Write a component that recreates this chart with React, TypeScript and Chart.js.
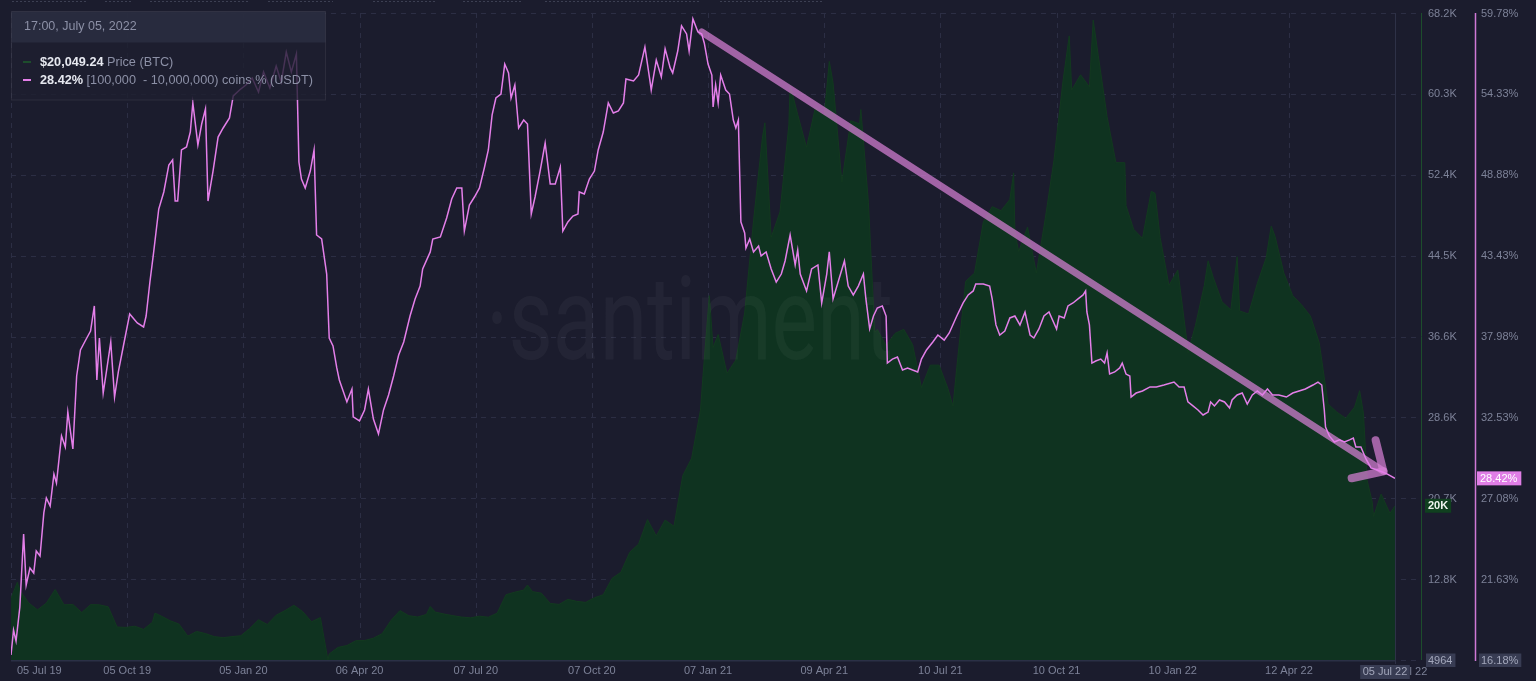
import React, { useEffect, useRef } from "react";
import { Chart, registerables } from "chart.js";

Chart.register(...registerables);

// ---------- data ----------
// x positions are days since 05 Jul 2019
const xTickDays = [0, 92, 184, 276, 368, 460, 552, 644, 736, 828, 920, 1012];
const xTickLabels = ["05 Jul 19", "05 Oct 19", "05 Jan 20", "06 Apr 20", "07 Jul 20", "07 Oct 20", "07 Jan 21", "09 Apr 21", "10 Jul 21", "10 Oct 21", "10 Jan 22", "12 Apr 22"];
const lastDay = 1096;
const lastDayLabel = "05 Jul 22";

const priceTicks = [4964, 12873, 20782, 28691, 36600, 44509, 52418, 60327, 68236];
const priceTickLabels = ["4964", "12.8K", "20.7K", "28.6K", "36.6K", "44.5K", "52.4K", "60.3K", "68.2K"];
const pctTicks = [16.18, 21.63, 27.08, 32.53, 37.98, 43.43, 48.88, 54.33, 59.78];
const pctTickLabels = ["16.18%", "21.63%", "27.08%", "32.53%", "37.98%", "43.43%", "48.88%", "54.33%", "59.78%"];

const priceDays = [0, 5, 7, 14, 21, 28, 35, 42, 49, 56, 63, 70, 77, 84, 91, 98, 105, 112, 114, 119, 126, 133, 140, 147, 154, 161, 168, 175, 182, 189, 196, 203, 210, 217, 224, 231, 238, 245, 251, 252, 259, 266, 273, 280, 287, 294, 301, 308, 315, 322, 329, 332, 336, 343, 350, 357, 364, 371, 378, 385, 392, 399, 406, 409, 413, 420, 427, 434, 441, 448, 455, 462, 469, 476, 483, 490, 497, 504, 511, 518, 525, 532, 539, 546, 548, 553, 556, 560, 567, 574, 581, 588, 595, 597, 602, 609, 616, 617, 623, 630, 637, 644, 648, 651, 658, 665, 672, 673, 679, 684, 686, 693, 700, 707, 714, 721, 728, 735, 742, 746, 749, 756, 763, 770, 777, 784, 791, 794, 795, 798, 805, 812, 819, 826, 833, 838, 840, 847, 854, 857, 861, 868, 875, 882, 883, 889, 896, 903, 906, 910, 917, 924, 931, 932, 938, 945, 948, 952, 959, 966, 971, 973, 980, 987, 994, 998, 1001, 1008, 1015, 1022, 1029, 1036, 1043, 1050, 1057, 1064, 1068, 1071, 1074, 1078, 1079, 1085, 1092, 1096];
const priceValues = [11000, 12570, 11800, 10550, 9870, 10530, 11860, 10360, 10400, 9600, 10380, 10360, 10170, 8190, 8150, 8270, 7960, 8660, 9550, 9260, 8810, 8480, 7300, 7760, 7550, 7250, 7150, 7250, 7340, 8040, 8900, 8440, 9350, 9800, 10320, 9700, 8700, 9120, 4970, 5560, 6200, 6380, 6850, 6870, 7100, 7550, 8850, 9800, 9300, 9170, 9420, 10200, 9650, 9460, 9300, 9160, 9090, 9250, 9150, 9550, 11350, 11600, 11800, 12300, 11650, 11500, 10500, 10400, 10900, 10700, 10600, 11050, 11350, 12950, 13550, 15500, 16300, 18700, 17100, 18650, 18050, 23000, 24700, 29400, 32800, 40600, 35500, 36800, 33000, 34300, 38900, 47900, 56000, 57500, 46300, 48800, 57300, 61200, 58300, 55100, 59000, 58200, 63500, 61400, 51700, 57700, 57400, 58800, 49700, 37000, 37300, 35700, 36900, 37300, 35800, 31600, 33800, 33800, 31500, 29800, 33600, 42000, 42800, 47800, 49300, 48900, 50000, 52600, 46800, 44900, 47300, 42800, 48100, 53900, 61500, 66000, 60700, 62200, 61000, 67550, 64100, 58100, 53600, 53600, 49400, 47100, 46200, 50800, 50600, 46300, 41600, 43100, 36300, 35000, 37700, 41600, 44000, 42400, 40000, 39200, 44400, 39100, 38800, 41800, 44300, 47400, 46400, 42800, 40600, 39700, 38600, 36000, 30000, 29200, 28600, 29700, 31300, 29100, 22500, 20400, 19000, 21200, 19300, 20050];

const usdtDays = [0, 2, 4, 7, 10, 12, 15, 18, 20, 23, 26, 28, 31, 34, 36, 40, 43, 45, 49, 52, 55, 60, 63, 66, 68, 70, 73, 76, 79, 82, 85, 89, 94, 100, 105, 107, 110, 113, 117, 121, 125, 128, 130, 132, 135, 139, 142, 144, 148, 151, 154, 156, 160, 164, 168, 173, 176, 181, 186, 191, 196, 200, 205, 210, 214, 218, 222, 226, 228, 230, 233, 237, 240, 242, 246, 250, 252, 255, 258, 260, 266, 270, 271, 276, 280, 283, 287, 291, 295, 299, 303, 307, 311, 316, 320, 324, 326, 332, 334, 340, 345, 349, 353, 357, 359, 363, 367, 371, 375, 378, 381, 384, 388, 391, 394, 396, 399, 402, 406, 409, 412, 415, 419, 423, 427, 431, 435, 437, 441, 445, 449, 450, 454, 458, 462, 465, 469, 473, 477, 481, 485, 487, 493, 497, 502, 506, 507, 511, 515, 518, 522, 524, 528, 531, 535, 537, 540, 544, 547, 549, 552, 555, 556, 558, 560, 562, 566, 569, 572, 574, 576, 577, 578, 581, 582, 585, 588, 592, 594, 598, 602, 606, 610, 613, 617, 621, 623, 625, 630, 634, 639, 642, 646, 648, 651, 655, 660, 663, 667, 671, 675, 677, 680, 683, 686, 690, 693, 694, 698, 702, 706, 710, 714, 718, 721, 725, 730, 734, 739, 743, 749, 754, 758, 762, 764, 770, 775, 777, 780, 783, 787, 791, 795, 799, 803, 807, 810, 814, 818, 822, 828, 830, 834, 837, 841, 845, 849, 851, 852, 854, 856, 859, 863, 866, 868, 870, 874, 878, 880, 883, 886, 887, 891, 896, 902, 907, 913, 921, 925, 929, 932, 936, 940, 944, 948, 950, 953, 957, 961, 965, 967, 971, 975, 979, 983, 987, 991, 995, 999, 1004, 1010, 1015, 1020, 1025, 1031, 1035, 1038, 1040, 1041, 1044, 1048, 1052, 1056, 1060, 1063, 1065, 1069, 1073, 1077, 1082, 1086, 1090, 1096];
const usdtValues = [16.52, 18.2, 17.46, 19.75, 24.67, 21.23, 22.38, 22.04, 23.53, 23.19, 26.09, 27.1, 26.56, 28.71, 28.11, 31.28, 30.53, 32.89, 30.4, 35.32, 37.07, 37.88, 38.35, 40.04, 35.05, 37.88, 34.17, 35.86, 37.61, 33.9, 35.59, 37.34, 39.5, 38.89, 38.62, 39.36, 41.65, 43.68, 46.57, 47.72, 49.54, 49.88, 47.11, 47.11, 50.55, 50.75, 51.76, 53.72, 50.89, 52.3, 53.31, 47.11, 49.13, 51.42, 52.03, 52.71, 54.19, 54.59, 54.93, 55.4, 54.46, 55.81, 54.73, 56.21, 55.13, 57.15, 55.81, 57.02, 49.74, 48.59, 47.99, 49.13, 50.55, 44.82, 44.55, 42.19, 37.88, 37.34, 35.86, 35.05, 33.57, 34.44, 32.56, 32.29, 33.03, 34.44, 32.42, 31.41, 33.03, 34.04, 35.32, 36.73, 37.61, 39.36, 40.51, 41.38, 42.53, 43.68, 44.55, 44.69, 45.97, 47.25, 47.99, 47.99, 45.09, 46.84, 47.38, 47.99, 49.4, 50.55, 52.91, 54.05, 54.32, 56.34, 55.74, 54.05, 54.93, 52.03, 52.57, 52.3, 46.24, 47.38, 49.13, 51.02, 48.26, 48.26, 49.4, 45.09, 45.7, 46.1, 46.24, 47.72, 47.58, 48.59, 49.13, 50.55, 51.76, 53.72, 53.04, 53.18, 53.72, 55.33, 55.2, 55.6, 57.49, 55.2, 54.59, 56.61, 55.47, 57.36, 56.08, 55.74, 57.22, 58.91, 58.37, 57.22, 59.38, 58.5, 58.37, 57.76, 56.34, 55.6, 53.45, 54.93, 53.72, 55.6, 54.59, 54.32, 52.57, 52.03, 52.57, 49.13, 45.7, 44.96, 43.94, 44.55, 43.68, 44.08, 43.41, 43.68, 42.53, 41.65, 42.19, 43.07, 44.82, 42.8, 43.81, 42.19, 41.05, 42.53, 42.8, 40.24, 42.19, 43.68, 40.51, 41.65, 43.07, 41.38, 40.78, 41.38, 42.19, 40.51, 38.49, 39.36, 39.9, 40.04, 39.36, 36.19, 36.46, 36.6, 35.72, 35.86, 35.72, 35.59, 36.46, 37.07, 37.61, 38.08, 37.74, 38.22, 39.36, 40.24, 40.78, 41.05, 41.52, 41.52, 41.38, 40.51, 38.76, 38.08, 38.35, 39.23, 39.36, 38.76, 39.63, 38.08, 37.88, 38.49, 39.36, 39.63, 38.49, 39.36, 39.23, 40.04, 40.24, 40.51, 40.78, 41.05, 39.63, 38.76, 36.19, 36.33, 36.46, 36.19, 36.87, 35.45, 35.59, 35.86, 36.19, 35.45, 35.32, 33.9, 34.17, 34.31, 34.58, 34.58, 34.71, 34.91, 34.58, 34.58, 33.57, 33.3, 33.03, 32.69, 32.89, 33.57, 33.3, 33.7, 33.57, 33.16, 33.7, 34.04, 34.17, 33.43, 34.04, 34.31, 34.04, 34.44, 34.04, 34.04, 33.9, 34.17, 34.31, 34.44, 34.71, 34.91, 34.71, 33.03, 31.88, 31.28, 30.87, 31.01, 30.87, 31.01, 31.14, 30.53, 30.53, 29.73, 29.12, 28.98, 28.85, 28.71, 28.42];

const currentPrice = 20049.24;
const currentPriceLabel = "20K";
const currentPct = 28.42;
const headerText = "17:00, July 05, 2022";
const priceSeriesName = "Price (BTC)";
const usdtSeriesName = "[100,000  - 10,000,000) coins % (USDT)";
const trendFrom = { day: 547, pct: 58.5 };
const trendTo = { day: 1087, pct: 28.9 };

// ---------- styles ----------
const FONT = '"Liberation Sans", Arial, sans-serif';
const C = {
  bg: "#1b1c2d",
  grid: "#2c2e44",
  edge: "#2e3147",
  base: "#2b3046",
  green: "#0f3320",
  greenEdge: "#12391f",
  greenAxis: "#1d4d2c",
  pink: "#e47fe9",
  pinkAxis: "#cf78d6",
  arrow: "rgba(214,128,212,0.72)",
  axisText: "#7d8298",
  box: "#383c53",
  boxText: "#a3a7bb",
  greenBox: "#10401f",
  pinkBox: "#e07ee6",
  legendText: "#8c90a6",
  legendValue: "#e6e8f0",
};

const decor = {
  id: "decor",
  beforeDraw(chart: any) {
    const ctx = chart.ctx;
    ctx.save();
    ctx.fillStyle = C.bg;
    ctx.fillRect(0, 0, chart.width, chart.height);
    // faint dotted strip at top edge
    ctx.strokeStyle = "rgba(140,145,170,0.3)";
    ctx.setLineDash([2, 2]);
    ctx.lineWidth = 1;
    const segs = [[12, 88], [105, 132], [150, 250], [268, 333], [373, 437], [463, 523], [545, 700], [720, 823]];
    segs.forEach(([a, b]) => {
      ctx.beginPath();
      ctx.moveTo(a, 1.5);
      ctx.lineTo(b, 1.5);
      ctx.stroke();
    });
    ctx.restore();
  },
  beforeDatasetsDraw(chart: any) {
    const { ctx, chartArea: ca, scales } = chart;
    ctx.save();
    ctx.strokeStyle = C.grid;
    ctx.lineWidth = 1;
    ctx.setLineDash([5, 5]);
    xTickDays.forEach((d) => {
      const x = Math.round(scales.x.getPixelForValue(d)) + 0.5;
      ctx.beginPath();
      ctx.moveTo(x, ca.top);
      ctx.lineTo(x, ca.bottom);
      ctx.stroke();
    });
    priceTicks.forEach((v) => {
      const y = Math.round(scales.y.getPixelForValue(v)) + 0.5;
      ctx.beginPath();
      ctx.moveTo(ca.left, y);
      ctx.lineTo(ca.right + 21, y);
      ctx.stroke();
    });
    ctx.restore();
  },
  beforeDatasetDraw(chart: any, args: any) {
    if (args.index !== 1) return;
    const { ctx, scales } = chart;
    // watermark
    ctx.save();
    ctx.fillStyle = "rgba(255,255,255,0.04)";
    ctx.font = `400 86px Roboto, ${FONT}`;
    ctx.textBaseline = "alphabetic";
    ctx.translate(486, 359);
    ctx.scale(1, 1.36);
    ctx.fillText("·santiment", 0, 0);
    ctx.restore();
    // trend arrow
    const x1 = scales.x.getPixelForValue(trendFrom.day);
    const y1 = scales.y2.getPixelForValue(trendFrom.pct);
    const x2 = scales.x.getPixelForValue(trendTo.day);
    const y2 = scales.y2.getPixelForValue(trendTo.pct);
    ctx.save();
    ctx.strokeStyle = C.arrow;
    ctx.lineCap = "round";
    ctx.lineWidth = 7;
    ctx.beginPath();
    ctx.moveTo(x1, y1);
    ctx.lineTo(x2, y2);
    ctx.stroke();
    ctx.lineWidth = 8;
    ctx.beginPath();
    ctx.moveTo(x2 - 32, y2 + 7);
    ctx.lineTo(x2, y2);
    ctx.stroke();
    ctx.beginPath();
    ctx.moveTo(x2 - 8, y2 - 31);
    ctx.lineTo(x2 - 1, y2 - 3);
    ctx.stroke();
    ctx.restore();
  },
  afterDraw(chart: any) {
    const { ctx, chartArea: ca, scales } = chart;
    const xs = scales.x, ys = scales.y, ps = scales.y2;
    ctx.save();
    // plot right edge & baseline
    ctx.strokeStyle = C.edge;
    ctx.lineWidth = 1;
    ctx.beginPath();
    ctx.moveTo(ca.right + 0.5, ca.top);
    ctx.lineTo(ca.right + 0.5, ca.bottom + 4);
    ctx.stroke();
    ctx.strokeStyle = C.base;
    ctx.lineWidth = 1.5;
    ctx.beginPath();
    ctx.moveTo(ca.left, ca.bottom + 0.75);
    ctx.lineTo(ca.right, ca.bottom + 0.75);
    ctx.stroke();
    // axis lines
    const priceAxisX = ca.right + 26.5;
    const pctAxisX = ca.right + 80.5;
    ctx.lineWidth = 1;
    ctx.strokeStyle = C.greenAxis;
    ctx.beginPath();
    ctx.moveTo(priceAxisX, ca.top);
    ctx.lineTo(priceAxisX, ca.bottom);
    ctx.stroke();
    ctx.strokeStyle = C.pinkAxis;
    ctx.lineWidth = 1.5;
    ctx.beginPath();
    ctx.moveTo(pctAxisX, ca.top);
    ctx.lineTo(pctAxisX, ca.bottom + 1);
    ctx.stroke();

    // y labels
    ctx.font = `11px ${FONT}`;
    ctx.textBaseline = "middle";
    ctx.textAlign = "left";
    const pLabelX = ca.right + 33;
    const qLabelX = ca.right + 86;
    priceTicks.forEach((v, i) => {
      const y = ys.getPixelForValue(v);
      if (i === 0) {
        const w = ctx.measureText(priceTickLabels[i]).width;
        ctx.fillStyle = C.box;
        ctx.fillRect(pLabelX - 2, y - 6.5, w + 5, 13.5);
        ctx.fillStyle = C.boxText;
      } else ctx.fillStyle = C.axisText;
      ctx.fillText(priceTickLabels[i], pLabelX, y + 0.5);
    });
    pctTicks.forEach((v, i) => {
      const y = ps.getPixelForValue(v);
      if (i === 0) {
        const w = ctx.measureText(pctTickLabels[i]).width;
        ctx.fillStyle = C.box;
        ctx.fillRect(qLabelX - 2, y - 6.5, w + 5, 13.5);
        ctx.fillStyle = C.boxText;
      } else ctx.fillStyle = C.axisText;
      ctx.fillText(pctTickLabels[i], qLabelX, y + 0.5);
    });

    // current value badges
    {
      const y = ys.getPixelForValue(currentPrice);
      ctx.font = `bold 11px ${FONT}`;
      const w = ctx.measureText(currentPriceLabel).width;
      ctx.fillStyle = C.greenBox;
      ctx.fillRect(pLabelX - 3, y - 7, w + 6, 14);
      ctx.fillStyle = "#eef3ee";
      ctx.fillText(currentPriceLabel, pLabelX, y + 0.5);
    }
    {
      const y = ps.getPixelForValue(currentPct);
      ctx.font = `11px ${FONT}`;
      const t = currentPct.toFixed(2) + "%";
      const w = ctx.measureText(t).width;
      ctx.fillStyle = C.pinkBox;
      ctx.fillRect(qLabelX - 4, y - 7, w + 7, 14);
      ctx.fillStyle = "#ffffff";
      ctx.fillText(t, qLabelX - 1, y + 0.5);
    }

    // x labels
    ctx.font = `11px ${FONT}`;
    ctx.fillStyle = C.axisText;
    ctx.textAlign = "center";
    const ly = ca.bottom + 11;
    xTickDays.forEach((d, i) => {
      const w = ctx.measureText(xTickLabels[i]).width;
      let x = xs.getPixelForValue(d);
      x = Math.max(x, 17 + w / 2);
      ctx.fillText(xTickLabels[i], x, ly);
    });
    {
      const xEnd = xs.getPixelForValue(lastDay);
      const w = ctx.measureText(lastDayLabel).width;
      // underlying label partly hidden by the highlighted one
      ctx.fillStyle = C.axisText;
      ctx.fillText(lastDayLabel, xEnd + 10, ly + 1);
      const cx = xEnd - 10;
      ctx.fillStyle = C.box;
      ctx.fillRect(cx - w / 2 - 2.5, ly - 6, w + 5, 14);
      ctx.fillStyle = C.boxText;
      ctx.fillText(lastDayLabel, cx, ly + 1);
    }

    // legend box
    const bx = 11.5, by = 11.5, bw = 314, bh = 88.5;
    ctx.fillStyle = "rgba(30,31,48,0.8)";
    ctx.fillRect(bx, by, bw, bh);
    ctx.fillStyle = "rgba(46,48,68,0.7)";
    ctx.fillRect(bx, by, bw, 31);
    ctx.strokeStyle = "rgba(255,255,255,0.07)";
    ctx.lineWidth = 1;
    ctx.strokeRect(bx, by, bw, bh);
    ctx.textAlign = "left";
    ctx.textBaseline = "middle";
    ctx.font = `12.5px ${FONT}`;
    ctx.fillStyle = C.legendText;
    ctx.fillText(headerText, 24, 27);

    const rows = [
      { color: C.greenAxis, value: "$" + currentPrice.toLocaleString("en-US", { minimumFractionDigits: 2, maximumFractionDigits: 2 }), name: priceSeriesName, y: 62 },
      { color: C.pink, value: currentPct.toFixed(2) + "%", name: usdtSeriesName, y: 80 },
    ];
    rows.forEach((r) => {
      ctx.strokeStyle = r.color;
      ctx.lineWidth = 2;
      ctx.beginPath();
      ctx.moveTo(23, r.y);
      ctx.lineTo(31, r.y);
      ctx.stroke();
      ctx.font = `bold 12.7px ${FONT}`;
      ctx.fillStyle = C.legendValue;
      ctx.fillText(r.value, 40, r.y);
      const w = ctx.measureText(r.value + " ").width;
      ctx.font = `12.7px ${FONT}`;
      ctx.fillStyle = C.legendText;
      ctx.fillText(r.name, 40 + w, r.y);
    });
    ctx.restore();
  },
};

export default function App() {
  const ref = useRef<HTMLCanvasElement>(null);
  useEffect(() => {
    const canvas = ref.current;
    if (!canvas) return;
    const chart = new Chart(canvas, {
      type: "line",
      data: {
        datasets: [
          {
            label: priceSeriesName,
            data: priceDays.map((d, i) => ({ x: d, y: priceValues[i] })),
            yAxisID: "y",
            order: 2,
            fill: "start",
            backgroundColor: C.green,
            borderColor: C.greenEdge,
            borderWidth: 1,
            pointRadius: 0,
            tension: 0,
          },
          {
            label: usdtSeriesName,
            data: usdtDays.map((d, i) => ({ x: d, y: usdtValues[i] })),
            yAxisID: "y2",
            order: 1,
            fill: false,
            borderColor: C.pink,
            borderWidth: 1.5,
            pointRadius: 0,
            tension: 0,
          },
        ],
      },
      options: {
        animation: false,
        responsive: false,
        devicePixelRatio: 1,
        events: [],
        layout: { padding: { left: 11, right: 141, top: 13, bottom: 21 } },
        scales: {
          x: { type: "linear", min: 0, max: lastDay, display: false },
          y: { type: "linear", min: priceTicks[0], max: priceTicks[priceTicks.length - 1], display: false },
          y2: { type: "linear", min: pctTicks[0], max: pctTicks[pctTicks.length - 1], display: false },
        },
        plugins: { legend: { display: false }, tooltip: { enabled: false } },
      } as any,
      plugins: [decor],
    });
    return () => chart.destroy();
  }, []);
  return (
    <div style={{ position: "fixed", left: 0, top: 0, width: 1536, height: 681, background: C.bg }}>
      <canvas ref={ref} width={1536} height={681} style={{ display: "block" }} />
    </div>
  );
}
